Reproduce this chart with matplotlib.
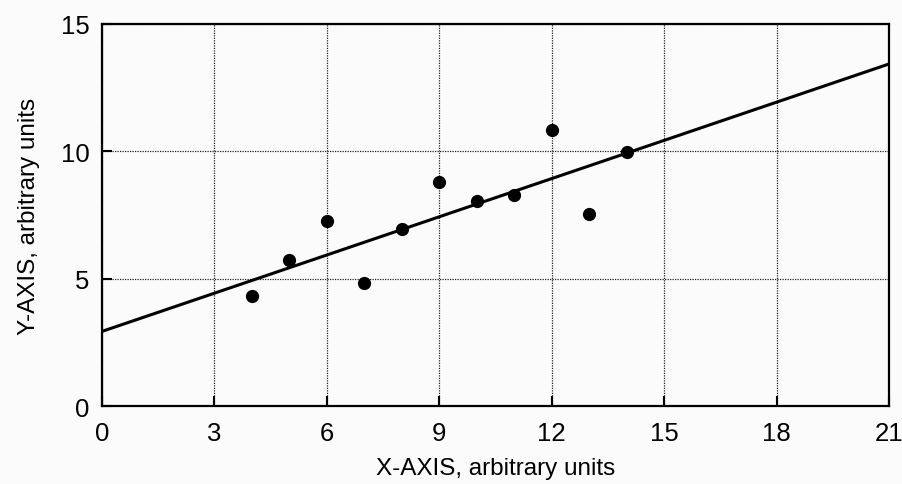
import matplotlib
matplotlib.use("Agg")
import matplotlib.pyplot as plt

# measured points
x_vals = [4, 5, 6, 7, 8, 9, 10, 11, 12, 13, 14]
y_vals = [4.3, 5.72, 7.25, 4.84, 6.94, 8.78, 8.04, 8.27, 10.83, 7.55, 9.96]

# fitted line end points
fit_x = [0, 21]
fit_y = [2.93, 13.43]

x_ticks = [0, 3, 6, 9, 12, 15, 18, 21]
y_ticks = [0, 5, 10, 15]

plt.rcParams['font.family'] = ['Liberation Sans', 'DejaVu Sans']

fig = plt.figure(figsize=(9.02, 4.85), dpi=100, facecolor='#fbfbfb')
ax = fig.add_axes([0.1131, 0.1608, 0.8725, 0.7877])
ax.set_facecolor('#fbfbfb')

ax.plot(fit_x, fit_y, color='black', linewidth=2.2, solid_capstyle='butt', zorder=3)
ax.plot(x_vals, y_vals, 'o', color='black', markersize=8.5, zorder=4)

ax.set_xlim(0, 21)
ax.set_ylim(0, 15)
ax.set_xticks(x_ticks)
ax.set_yticks(y_ticks)
ax.grid(True, color='#222222', linestyle=(0, (1, 1)), linewidth=0.9, zorder=1)

ax.tick_params(direction='in', length=7, width=1.5, labelsize=18.5, colors='black')
ax.tick_params(axis='x', pad=10.5)
ax.tick_params(axis='y', pad=9)
for s in ax.spines.values():
    s.set_linewidth(1.6)
    s.set_zorder(5)

ax.set_xlabel('X-AXIS, arbitrary units', fontsize=17.5, labelpad=9)
ax.set_ylabel('Y-AXIS, arbitrary units', fontsize=17.5, labelpad=15)

fig.savefig('out.png', dpi=100, facecolor=fig.get_facecolor())
